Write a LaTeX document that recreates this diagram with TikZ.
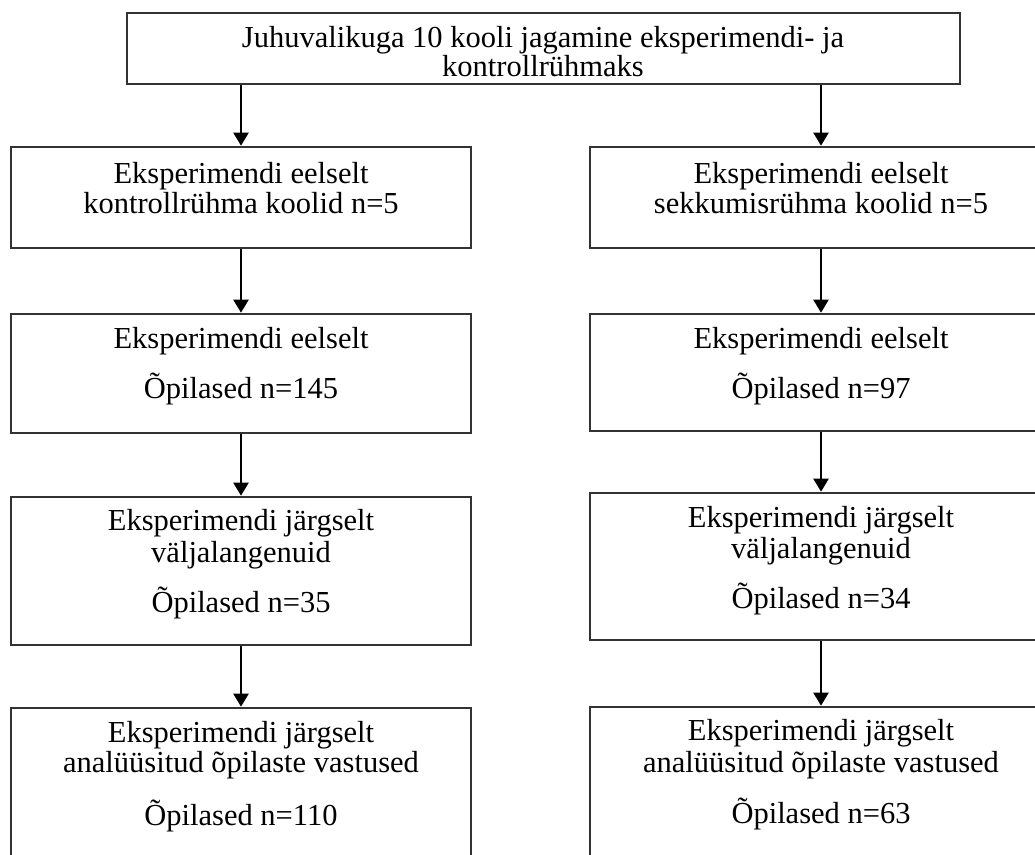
\documentclass[tikz,border=0pt]{standalone}
\usepackage{fontspec}
\setmainfont{Liberation Serif}
\usetikzlibrary{arrows.meta}
\begin{document}
\begin{tikzpicture}[x=1pt,y=-1pt,
  box/.style={draw=black!80, line width=2.6pt, rectangle, inner sep=0pt, fill=none},
  txt/.style={anchor=base, inner sep=0pt, font=\fontsize{30.5}{30}\selectfont, text=black},
  arr/.style={draw=black, line width=2.2pt, -{Triangle[length=13pt,width=15pt]}}]
\useasboundingbox[clip] (0,0) rectangle (1035,854);
\fill[white] (0,0) rectangle (1035,854);
% boxes
\node[box, minimum width=833pt, minimum height=71pt] (top) at (543.5,48.5) {};
\node[box, minimum width=460pt, minimum height=101pt] (L2) at (241,197.5) {};
\node[box, minimum width=462pt, minimum height=101pt] (R2) at (821,197.5) {};
\node[box, minimum width=460pt, minimum height=119pt] (L3) at (241,373.5) {};
\node[box, minimum width=462pt, minimum height=117pt] (R3) at (821,372.5) {};
\node[box, minimum width=460pt, minimum height=148pt] (L4) at (241,571) {};
\node[box, minimum width=462pt, minimum height=147pt] (R4) at (821,566.5) {};
\node[box, minimum width=460pt, minimum height=200pt] (L5) at (241,808) {};
\node[box, minimum width=462pt, minimum height=200pt] (R5) at (821,807) {};
% texts
\node[txt] (t1) at (543,47) {Juhuvalikuga 10 kooli jagamine eksperimendi- ja};
\node[txt] (t2) at (543,76) {kontrollrühmaks};
\node[txt] (l2a) at (241,183) {Eksperimendi eelselt};
\node[txt] (l2b) at (241,213) {kontrollrühma koolid n=5};
\node[txt] (r2a) at (821,183) {Eksperimendi eelselt};
\node[txt] (r2b) at (821,213) {sekkumisrühma koolid n=5};
\node[txt] (l3a) at (241,348) {Eksperimendi eelselt};
\node[txt] (l3b) at (241,398) {Õpilased n=145};
\node[txt] (r3a) at (821,348) {Eksperimendi eelselt};
\node[txt] (r3b) at (821,398) {Õpilased n=97};
\node[txt] (l4a) at (241,530) {Eksperimendi järgselt};
\node[txt] (l4b) at (241,562) {väljalangenuid};
\node[txt] (l4c) at (241,612) {Õpilased n=35};
\node[txt] (r4a) at (821,527) {Eksperimendi järgselt};
\node[txt] (r4b) at (821,558) {väljalangenuid};
\node[txt] (r4c) at (821,608) {Õpilased n=34};
\node[txt] (l5a) at (241,742) {Eksperimendi järgselt};
\node[txt] (l5b) at (241,772) {analüüsitud õpilaste vastused};
\node[txt] (l5c) at (241,825) {Õpilased n=110};
\node[txt] (r5a) at (821,740) {Eksperimendi järgselt};
\node[txt] (r5b) at (821,772) {analüüsitud õpilaste vastused};
\node[txt] (r5c) at (821,823) {Õpilased n=63};
% arrows
\draw[arr] (L2.north |- top.south) -- (L2.north);
\draw[arr] (R2.north |- top.south) -- (R2.north);
\draw[arr] (L2.south) -- (L3.north);
\draw[arr] (R2.south) -- (R3.north);
\draw[arr] (L3.south) -- (L4.north);
\draw[arr] (R3.south) -- (R4.north);
\draw[arr] (L4.south) -- (L5.north);
\draw[arr] (R4.south) -- (R5.north);
\end{tikzpicture}
\end{document}
